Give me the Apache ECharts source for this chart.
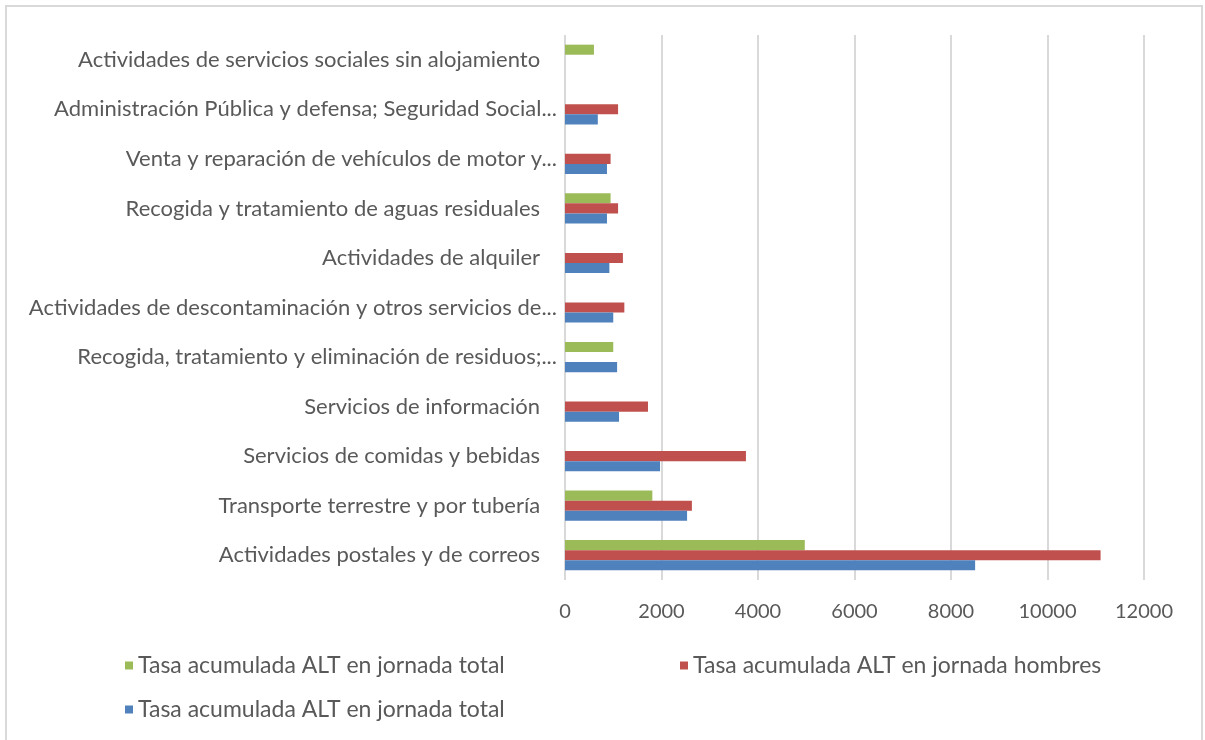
<!DOCTYPE html>
<html>
<head>
<meta charset="utf-8">
<script src="https://cdn.jsdelivr.net/npm/echarts@6/dist/echarts.min.js"></script>
<style>
  html, body { margin: 0; padding: 0; background: #fff; }
  #main { width: 1205px; height: 740px; }
</style>
</head>
<body>
<div id="main"></div>
<script>
// categorías de abajo hacia arriba (igual que el eje de Excel)
const categories = [
  'Actividades postales y de correos',
  'Transporte terrestre y por tubería',
  'Servicios de comidas y bebidas',
  'Servicios de información',
  'Recogida, tratamiento y eliminación de residuos;...',
  'Actividades de descontaminación y otros servicios de...',
  'Actividades de alquiler',
  'Recogida y tratamiento de aguas residuales',
  'Venta y reparación de vehículos de motor y...',
  'Administración Pública y defensa; Seguridad Social...',
  'Actividades de servicios sociales sin alojamiento'
];

// azul: tasa total
const totalAzul = [8500, 2530, 1970, 1120, 1080, 1000, 920, 870, 870, 680, null];
// rojo: hombres
const hombres = [11100, 2630, 3750, 1720, null, 1230, 1200, 1100, 945, 1100, null];
// verde: tasa total
const totalVerde = [4970, 1810, null, null, 1000, null, null, 945, null, null, 600];

const xTicks = [0, 2000, 4000, 6000, 8000, 10000, 12000];

const nombreVerde = 'Tasa acumulada ALT en jornada total';
const nombreRojo = 'Tasa acumulada ALT en jornada hombres';
const nombreAzul = 'Tasa acumulada ALT en jornada total '; // espacio final para distinguir en la leyenda

const fuente = 'Lato';
const gris = '#595959';

const myChart = echarts.init(document.getElementById('main'));

const legendaBase = {
  orient: 'horizontal',
  icon: 'rect',
  itemWidth: 8,
  itemHeight: 8,
  textStyle: { fontFamily: fuente, fontSize: 23, color: gris }
};

const option = {
  animation: false,
  backgroundColor: '#fff',
  graphic: [{
    type: 'rect',
    shape: { x: 6, y: 6, width: 1196, height: 760 },
    style: { fill: 'none', stroke: '#d9d9d9', lineWidth: 2 }
  }],
  grid: { left: 565, right: 61, top: 35, bottom: 160, containLabel: false },
  legend: [
    Object.assign({ data: [nombreVerde], left: 120, top: 649 }, legendaBase),
    Object.assign({ data: [nombreRojo], left: 675, top: 649 }, legendaBase),
    Object.assign({ data: [nombreAzul], left: 120, top: 693 }, legendaBase)
  ],
  xAxis: {
    type: 'value',
    min: 0,
    max: 12000,
    interval: 2000,
    axisLine: { show: false },
    axisTick: { show: false },
    splitLine: { lineStyle: { color: '#d9d9d9', width: 2 } },
    axisLabel: {
      fontFamily: fuente, fontSize: 20, color: gris, margin: 22,
      formatter: v => xTicks.includes(v) ? String(v) : ''
    }
  },
  yAxis: {
    type: 'category',
    data: categories,
    axisLine: { show: false },
    axisTick: { show: false },
    axisLabel: {
      fontFamily: fuente, fontSize: 22, color: gris, margin: 8,
      formatter: v => v.endsWith('...') ? v : v + '   '
    }
  },
  // el primer serie queda arriba dentro de cada categoría
  series: [
    {
      name: nombreVerde, type: 'bar', data: totalVerde,
      barGap: '0%', barCategoryGap: '39%',
      itemStyle: { color: '#9bbb59' }
    },
    {
      name: nombreRojo, type: 'bar', data: hombres,
      barGap: '0%', barCategoryGap: '39%',
      itemStyle: { color: '#c0504d' }
    },
    {
      name: nombreAzul, type: 'bar', data: totalAzul,
      barGap: '0%', barCategoryGap: '39%',
      itemStyle: { color: '#4f81bd' }
    }
  ]
};

myChart.setOption(option);
</script>
</body>
</html>
